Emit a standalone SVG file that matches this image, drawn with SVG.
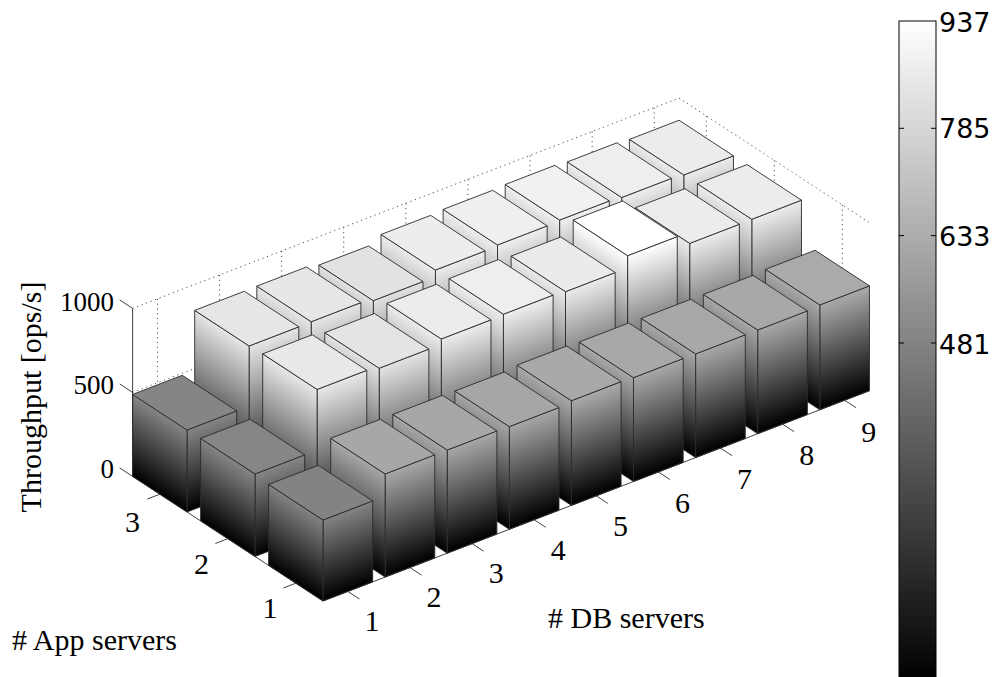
<svg xmlns="http://www.w3.org/2000/svg" width="997" height="677" viewBox="0 0 997 677">
  <defs>
    <!-- side faces: colour follows height, 0 = black, 937 = white (local units = throughput) -->
    <linearGradient id="zg" gradientUnits="userSpaceOnUse" x1="0" y1="0" x2="0" y2="937">
      <stop offset="0" stop-color="#000"/>
      <stop offset="1" stop-color="#fff"/>
    </linearGradient>
    <linearGradient id="cbar" x1="0" y1="0" x2="0" y2="1">
      <stop offset="0" stop-color="#fff"/>
      <stop offset="1" stop-color="#000"/>
    </linearGradient>
    <style>
      .face { fill: url(#zg); stroke: #2b2b2b; stroke-width: 0.9; vector-effect: non-scaling-stroke; stroke-linejoin: round; }
      .top { stroke: #2b2b2b; stroke-width: 0.9; vector-effect: non-scaling-stroke; stroke-linejoin: round; }
      .grid line { stroke: #3a3a3a; stroke-width: 0.9; stroke-dasharray: 1.2 3.6; fill: none; }
      .axis line { stroke: #2b2b2b; stroke-width: 0.9; fill: none; }
      .serif { font-family: "Liberation Serif", "Times New Roman", serif; fill: #000; }
      .tick { font-size: 30px; text-anchor: middle; }
      .ztick { font-size: 27px; text-anchor: end; }
      .title { font-size: 30px; }
      .cb { font-family: "DejaVu Sans", Verdana, sans-serif; font-size: 27px; fill: #000; }
    </style>
  </defs>

  <rect width="997" height="677" fill="#fff"/>

  <!-- dotted grid on the back walls -->
  <g id="grid" class="grid">
    <line x1="132.6" y1="308.4" x2="679.08" y2="98.08"/>
    <line x1="132.6" y1="392.4" x2="679.08" y2="182.08"/>
    <line x1="132.6" y1="476.4" x2="679.08" y2="266.08"/>
    <line x1="679.08" y1="98.08" x2="869.48" y2="222.68"/>
    <line x1="679.08" y1="182.08" x2="869.48" y2="306.68"/>
    <line x1="679.08" y1="266.08" x2="869.48" y2="390.68"/>
    <line x1="157.44" y1="298.84" x2="157.44" y2="466.84"/>
    <line x1="219.54" y1="274.94" x2="219.54" y2="442.94"/>
    <line x1="281.64" y1="251.04" x2="281.64" y2="419.04"/>
    <line x1="343.74" y1="227.14" x2="343.74" y2="395.14"/>
    <line x1="405.84" y1="203.24" x2="405.84" y2="371.24"/>
    <line x1="467.94" y1="179.34" x2="467.94" y2="347.34"/>
    <line x1="530.04" y1="155.44" x2="530.04" y2="323.44"/>
    <line x1="592.14" y1="131.54" x2="592.14" y2="299.54"/>
    <line x1="654.24" y1="107.64" x2="654.24" y2="275.64"/>
    <line x1="842.28" y1="204.88" x2="842.28" y2="372.88"/>
    <line x1="774.28" y1="160.38" x2="774.28" y2="328.38"/>
    <line x1="706.28" y1="115.88" x2="706.28" y2="283.88"/>
  </g>

  <!-- bars, painted back to front -->
  <g id="bars">
    <!-- 3 app servers -->
    <g id="bar-a3-d9">
      <rect class="face" transform="matrix(62.1 -23.9 0 -0.168 149.74 526.34)" x="8.6" y="0" width="0.8" height="868"/>
      <rect class="face" transform="matrix(-68 -44.5 0 -0.168 860.6 436.5)" x="2.6" y="0" width="0.8" height="868"/>
      <rect class="top" fill="#ececec" transform="translate(0 -145.82) matrix(62.1 -23.9 -68 -44.5 326.54 642.04)" x="8.6" y="2.6" width="0.8" height="0.8"/>
    </g>
    <g id="bar-a3-d8">
      <rect class="face" transform="matrix(62.1 -23.9 0 -0.168 149.74 526.34)" x="7.6" y="0" width="0.8" height="876"/>
      <rect class="face" transform="matrix(-68 -44.5 0 -0.168 798.5 460.4)" x="2.6" y="0" width="0.8" height="876"/>
      <rect class="top" fill="#eeeeee" transform="translate(0 -147.17) matrix(62.1 -23.9 -68 -44.5 326.54 642.04)" x="7.6" y="2.6" width="0.8" height="0.8"/>
    </g>
    <g id="bar-a3-d7">
      <rect class="face" transform="matrix(62.1 -23.9 0 -0.168 149.74 526.34)" x="6.6" y="0" width="0.8" height="884"/>
      <rect class="face" transform="matrix(-68 -44.5 0 -0.168 736.4 484.3)" x="2.6" y="0" width="0.8" height="884"/>
      <rect class="top" fill="#f1f1f1" transform="translate(0 -148.51) matrix(62.1 -23.9 -68 -44.5 326.54 642.04)" x="6.6" y="2.6" width="0.8" height="0.8"/>
    </g>
    <g id="bar-a3-d6">
      <rect class="face" transform="matrix(62.1 -23.9 0 -0.168 149.74 526.34)" x="5.6" y="0" width="0.8" height="878"/>
      <rect class="face" transform="matrix(-68 -44.5 0 -0.168 674.3 508.2)" x="2.6" y="0" width="0.8" height="878"/>
      <rect class="top" fill="#efefef" transform="translate(0 -147.5) matrix(62.1 -23.9 -68 -44.5 326.54 642.04)" x="5.6" y="2.6" width="0.8" height="0.8"/>
    </g>
    <g id="bar-a3-d5">
      <rect class="face" transform="matrix(62.1 -23.9 0 -0.168 149.74 526.34)" x="4.6" y="0" width="0.8" height="871"/>
      <rect class="face" transform="matrix(-68 -44.5 0 -0.168 612.2 532.1)" x="2.6" y="0" width="0.8" height="871"/>
      <rect class="top" fill="#ededed" transform="translate(0 -146.33) matrix(62.1 -23.9 -68 -44.5 326.54 642.04)" x="4.6" y="2.6" width="0.8" height="0.8"/>
    </g>
    <g id="bar-a3-d4">
      <rect class="face" transform="matrix(62.1 -23.9 0 -0.168 149.74 526.34)" x="3.6" y="0" width="0.8" height="831"/>
      <rect class="face" transform="matrix(-68 -44.5 0 -0.168 550.1 556.0)" x="2.6" y="0" width="0.8" height="831"/>
      <rect class="top" fill="#e2e2e2" transform="translate(0 -139.61) matrix(62.1 -23.9 -68 -44.5 326.54 642.04)" x="3.6" y="2.6" width="0.8" height="0.8"/>
    </g>
    <g id="bar-a3-d3">
      <rect class="face" transform="matrix(62.1 -23.9 0 -0.168 149.74 526.34)" x="2.6" y="0" width="0.8" height="848"/>
      <rect class="face" transform="matrix(-68 -44.5 0 -0.168 488.0 579.9)" x="2.6" y="0" width="0.8" height="848"/>
      <rect class="top" fill="#e7e7e7" transform="translate(0 -142.46) matrix(62.1 -23.9 -68 -44.5 326.54 642.04)" x="2.6" y="2.6" width="0.8" height="0.8"/>
    </g>
    <g id="bar-a3-d2">
      <rect class="face" transform="matrix(62.1 -23.9 0 -0.168 149.74 526.34)" x="1.6" y="0" width="0.8" height="846"/>
      <rect class="face" transform="matrix(-68 -44.5 0 -0.168 425.9 603.8)" x="2.6" y="0" width="0.8" height="846"/>
      <rect class="top" fill="#e6e6e6" transform="translate(0 -142.13) matrix(62.1 -23.9 -68 -44.5 326.54 642.04)" x="1.6" y="2.6" width="0.8" height="0.8"/>
    </g>
    <g id="bar-a3-d1">
      <rect class="face" transform="matrix(62.1 -23.9 0 -0.168 149.74 526.34)" x="0.6" y="0" width="0.8" height="488"/>
      <rect class="face" transform="matrix(-68 -44.5 0 -0.168 363.8 627.7)" x="2.6" y="0" width="0.8" height="488"/>
      <rect class="top" fill="#858585" transform="translate(0 -81.98) matrix(62.1 -23.9 -68 -44.5 326.54 642.04)" x="0.6" y="2.6" width="0.8" height="0.8"/>
    </g>

    <!-- 2 app servers -->
    <g id="bar-a2-d9">
      <rect class="face" transform="matrix(62.1 -23.9 0 -0.168 217.74 570.84)" x="8.6" y="0" width="0.8" height="869"/>
      <rect class="face" transform="matrix(-68 -44.5 0 -0.168 860.6 436.5)" x="1.6" y="0" width="0.8" height="869"/>
      <rect class="top" fill="#ececec" transform="translate(0 -145.99) matrix(62.1 -23.9 -68 -44.5 326.54 642.04)" x="8.6" y="1.6" width="0.8" height="0.8"/>
    </g>
    <g id="bar-a2-d8">
      <rect class="face" transform="matrix(62.1 -23.9 0 -0.168 217.74 570.84)" x="7.6" y="0" width="0.8" height="868"/>
      <rect class="face" transform="matrix(-68 -44.5 0 -0.168 798.5 460.4)" x="1.6" y="0" width="0.8" height="868"/>
      <rect class="top" fill="#ececec" transform="translate(0 -145.82) matrix(62.1 -23.9 -68 -44.5 326.54 642.04)" x="7.6" y="1.6" width="0.8" height="0.8"/>
    </g>
    <g id="bar-a2-d7">
      <rect class="face" transform="matrix(62.1 -23.9 0 -0.168 217.74 570.84)" x="6.6" y="0" width="0.8" height="937"/>
      <rect class="face" transform="matrix(-68 -44.5 0 -0.168 736.4 484.3)" x="1.6" y="0" width="0.8" height="937"/>
      <rect class="top" fill="#ffffff" transform="translate(0 -157.42) matrix(62.1 -23.9 -68 -44.5 326.54 642.04)" x="6.6" y="1.6" width="0.8" height="0.8"/>
    </g>
    <g id="bar-a2-d6">
      <rect class="face" transform="matrix(62.1 -23.9 0 -0.168 217.74 570.84)" x="5.6" y="0" width="0.8" height="865"/>
      <rect class="face" transform="matrix(-68 -44.5 0 -0.168 674.3 508.2)" x="1.6" y="0" width="0.8" height="865"/>
      <rect class="top" fill="#ebebeb" transform="translate(0 -145.32) matrix(62.1 -23.9 -68 -44.5 326.54 642.04)" x="5.6" y="1.6" width="0.8" height="0.8"/>
    </g>
    <g id="bar-a2-d5">
      <rect class="face" transform="matrix(62.1 -23.9 0 -0.168 217.74 570.84)" x="4.6" y="0" width="0.8" height="873"/>
      <rect class="face" transform="matrix(-68 -44.5 0 -0.168 612.2 532.1)" x="1.6" y="0" width="0.8" height="873"/>
      <rect class="top" fill="#eeeeee" transform="translate(0 -146.66) matrix(62.1 -23.9 -68 -44.5 326.54 642.04)" x="4.6" y="1.6" width="0.8" height="0.8"/>
    </g>
    <g id="bar-a2-d4">
      <rect class="face" transform="matrix(62.1 -23.9 0 -0.168 217.74 570.84)" x="3.6" y="0" width="0.8" height="868"/>
      <rect class="face" transform="matrix(-68 -44.5 0 -0.168 550.1 556.0)" x="1.6" y="0" width="0.8" height="868"/>
      <rect class="top" fill="#ececec" transform="translate(0 -145.82) matrix(62.1 -23.9 -68 -44.5 326.54 642.04)" x="3.6" y="1.6" width="0.8" height="0.8"/>
    </g>
    <g id="bar-a2-d3">
      <rect class="face" transform="matrix(62.1 -23.9 0 -0.168 217.74 570.84)" x="2.6" y="0" width="0.8" height="836"/>
      <rect class="face" transform="matrix(-68 -44.5 0 -0.168 488.0 579.9)" x="1.6" y="0" width="0.8" height="836"/>
      <rect class="top" fill="#e4e4e4" transform="translate(0 -140.45) matrix(62.1 -23.9 -68 -44.5 326.54 642.04)" x="2.6" y="1.6" width="0.8" height="0.8"/>
    </g>
    <g id="bar-a2-d2">
      <rect class="face" transform="matrix(62.1 -23.9 0 -0.168 217.74 570.84)" x="1.6" y="0" width="0.8" height="852"/>
      <rect class="face" transform="matrix(-68 -44.5 0 -0.168 425.9 603.8)" x="1.6" y="0" width="0.8" height="852"/>
      <rect class="top" fill="#e8e8e8" transform="translate(0 -143.14) matrix(62.1 -23.9 -68 -44.5 326.54 642.04)" x="1.6" y="1.6" width="0.8" height="0.8"/>
    </g>
    <g id="bar-a2-d1">
      <rect class="face" transform="matrix(62.1 -23.9 0 -0.168 217.74 570.84)" x="0.6" y="0" width="0.8" height="491"/>
      <rect class="face" transform="matrix(-68 -44.5 0 -0.168 363.8 627.7)" x="1.6" y="0" width="0.8" height="491"/>
      <rect class="top" fill="#868686" transform="translate(0 -82.49) matrix(62.1 -23.9 -68 -44.5 326.54 642.04)" x="0.6" y="1.6" width="0.8" height="0.8"/>
    </g>

    <!-- 1 app server -->
    <g id="bar-a1-d9">
      <rect class="face" transform="matrix(62.1 -23.9 0 -0.168 285.74 615.34)" x="8.6" y="0" width="0.8" height="624"/>
      <rect class="face" transform="matrix(-68 -44.5 0 -0.168 860.6 436.5)" x="0.6" y="0" width="0.8" height="624"/>
      <rect class="top" fill="#aaaaaa" transform="translate(0 -104.83) matrix(62.1 -23.9 -68 -44.5 326.54 642.04)" x="8.6" y="0.6" width="0.8" height="0.8"/>
    </g>
    <g id="bar-a1-d8">
      <rect class="face" transform="matrix(62.1 -23.9 0 -0.168 285.74 615.34)" x="7.6" y="0" width="0.8" height="617"/>
      <rect class="face" transform="matrix(-68 -44.5 0 -0.168 798.5 460.4)" x="0.6" y="0" width="0.8" height="617"/>
      <rect class="top" fill="#a8a8a8" transform="translate(0 -103.66) matrix(62.1 -23.9 -68 -44.5 326.54 642.04)" x="7.6" y="0.6" width="0.8" height="0.8"/>
    </g>
    <g id="bar-a1-d7">
      <rect class="face" transform="matrix(62.1 -23.9 0 -0.168 285.74 615.34)" x="6.6" y="0" width="0.8" height="617"/>
      <rect class="face" transform="matrix(-68 -44.5 0 -0.168 736.4 484.3)" x="0.6" y="0" width="0.8" height="617"/>
      <rect class="top" fill="#a8a8a8" transform="translate(0 -103.66) matrix(62.1 -23.9 -68 -44.5 326.54 642.04)" x="6.6" y="0.6" width="0.8" height="0.8"/>
    </g>
    <g id="bar-a1-d6">
      <rect class="face" transform="matrix(62.1 -23.9 0 -0.168 285.74 615.34)" x="5.6" y="0" width="0.8" height="618"/>
      <rect class="face" transform="matrix(-68 -44.5 0 -0.168 674.3 508.2)" x="0.6" y="0" width="0.8" height="618"/>
      <rect class="top" fill="#a8a8a8" transform="translate(0 -103.82) matrix(62.1 -23.9 -68 -44.5 326.54 642.04)" x="5.6" y="0.6" width="0.8" height="0.8"/>
    </g>
    <g id="bar-a1-d5">
      <rect class="face" transform="matrix(62.1 -23.9 0 -0.168 285.74 615.34)" x="4.6" y="0" width="0.8" height="623"/>
      <rect class="face" transform="matrix(-68 -44.5 0 -0.168 612.2 532.1)" x="0.6" y="0" width="0.8" height="623"/>
      <rect class="top" fill="#a9a9a9" transform="translate(0 -104.66) matrix(62.1 -23.9 -68 -44.5 326.54 642.04)" x="4.6" y="0.6" width="0.8" height="0.8"/>
    </g>
    <g id="bar-a1-d4">
      <rect class="face" transform="matrix(62.1 -23.9 0 -0.168 285.74 615.34)" x="3.6" y="0" width="0.8" height="611"/>
      <rect class="face" transform="matrix(-68 -44.5 0 -0.168 550.1 556.0)" x="0.6" y="0" width="0.8" height="611"/>
      <rect class="top" fill="#a6a6a6" transform="translate(0 -102.65) matrix(62.1 -23.9 -68 -44.5 326.54 642.04)" x="3.6" y="0.6" width="0.8" height="0.8"/>
    </g>
    <g id="bar-a1-d3">
      <rect class="face" transform="matrix(62.1 -23.9 0 -0.168 285.74 615.34)" x="2.6" y="0" width="0.8" height="614"/>
      <rect class="face" transform="matrix(-68 -44.5 0 -0.168 488.0 579.9)" x="0.6" y="0" width="0.8" height="614"/>
      <rect class="top" fill="#a7a7a7" transform="translate(0 -103.15) matrix(62.1 -23.9 -68 -44.5 326.54 642.04)" x="2.6" y="0.6" width="0.8" height="0.8"/>
    </g>
    <g id="bar-a1-d2">
      <rect class="face" transform="matrix(62.1 -23.9 0 -0.168 285.74 615.34)" x="1.6" y="0" width="0.8" height="614"/>
      <rect class="face" transform="matrix(-68 -44.5 0 -0.168 425.9 603.8)" x="0.6" y="0" width="0.8" height="614"/>
      <rect class="top" fill="#a7a7a7" transform="translate(0 -103.15) matrix(62.1 -23.9 -68 -44.5 326.54 642.04)" x="1.6" y="0.6" width="0.8" height="0.8"/>
    </g>
    <g id="bar-a1-d1">
      <rect class="face" transform="matrix(62.1 -23.9 0 -0.168 285.74 615.34)" x="0.6" y="0" width="0.8" height="482"/>
      <rect class="face" transform="matrix(-68 -44.5 0 -0.168 363.8 627.7)" x="0.6" y="0" width="0.8" height="482"/>
      <rect class="top" fill="#838383" transform="translate(0 -80.98) matrix(62.1 -23.9 -68 -44.5 326.54 642.04)" x="0.6" y="0.6" width="0.8" height="0.8"/>
    </g>
  </g>

  <!-- axis lines and tick marks -->
  <g id="axes" class="axis">
    <line x1="132.6" y1="476.4" x2="132.6" y2="308.4"/>
    <line x1="323" y1="601" x2="869.48" y2="390.68"/>
    <line x1="323" y1="601" x2="132.6" y2="476.4"/>
    <line x1="132.6" y1="476.4" x2="119.7" y2="467.9"/>
    <line x1="132.6" y1="392.4" x2="119.7" y2="383.9"/>
    <line x1="132.6" y1="308.4" x2="119.7" y2="299.9"/>
    <line x1="295.8" y1="583.2" x2="283.4" y2="588.0"/>
    <line x1="227.8" y1="538.7" x2="215.4" y2="543.5"/>
    <line x1="159.8" y1="494.2" x2="147.4" y2="499.0"/>
    <line x1="347.84" y1="591.44" x2="359.4" y2="599.0"/>
    <line x1="409.94" y1="567.54" x2="421.5" y2="575.1"/>
    <line x1="472.04" y1="543.64" x2="483.6" y2="551.2"/>
    <line x1="534.14" y1="519.74" x2="545.7" y2="527.3"/>
    <line x1="596.24" y1="495.84" x2="607.8" y2="503.4"/>
    <line x1="658.34" y1="471.94" x2="669.9" y2="479.5"/>
    <line x1="720.44" y1="448.04" x2="732.0" y2="455.6"/>
    <line x1="782.54" y1="424.14" x2="794.1" y2="431.7"/>
    <line x1="844.64" y1="400.24" x2="856.2" y2="407.8"/>
  </g>

  <!-- tick labels -->
  <g id="z-labels" class="serif ztick">
    <text x="114" y="310.5">1000</text>
    <text x="114" y="394">500</text>
    <text x="114" y="478">0</text>
  </g>
  <g id="app-labels" class="serif tick">
    <text x="132.5" y="532">3</text>
    <text x="201.5" y="573.6">2</text>
    <text x="270" y="618">1</text>
  </g>
  <g id="db-labels" class="serif tick">
    <text x="372" y="630.5">1</text>
    <text x="434.1" y="606.9">2</text>
    <text x="496.2" y="583.3">3</text>
    <text x="558.3" y="559.7">4</text>
    <text x="620.4" y="536.1">5</text>
    <text x="682.5" y="512.5">6</text>
    <text x="744.6" y="488.9">7</text>
    <text x="806.7" y="465.3">8</text>
    <text x="868.8" y="441.7">9</text>
  </g>

  <!-- axis titles -->
  <g id="titles" class="serif title">
    <text transform="translate(41 397) rotate(-90)" text-anchor="middle">Throughput [ops/s]</text>
    <text x="12" y="650"># App servers</text>
    <text x="548" y="628"># DB servers</text>
  </g>

  <!-- colour bar -->
  <g id="colorbar">
    <rect x="899" y="21" width="37" height="661.5" fill="url(#cbar)" stroke="#000" stroke-width="1"/>
    <g stroke="#000" stroke-width="1">
      <line x1="899" y1="128.3" x2="904" y2="128.3"/>
      <line x1="931" y1="128.3" x2="936" y2="128.3"/>
      <line x1="899" y1="235.6" x2="904" y2="235.6"/>
      <line x1="931" y1="235.6" x2="936" y2="235.6"/>
      <line x1="899" y1="343" x2="904" y2="343"/>
      <line x1="931" y1="343" x2="936" y2="343"/>
    </g>
    <g class="cb">
      <text x="939" y="31.5">937</text>
      <text x="939" y="138">785</text>
      <text x="939" y="246">633</text>
      <text x="939" y="354">481</text>
    </g>
  </g>
</svg>
